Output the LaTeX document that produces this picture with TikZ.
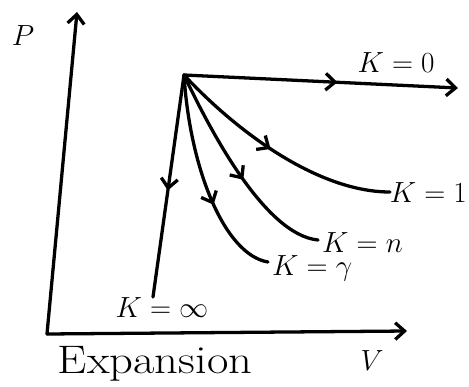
\documentclass[tikz,border=0pt]{standalone}
\usepackage{amsmath, amssymb}
\usetikzlibrary{arrows.meta, decorations.markings}

\begin{document}
\begin{tikzpicture}[
  x=0.03cm, y=-0.03cm,
  curve/.style={line width=2.8pt, line cap=round, postaction={decorate},
    decoration={markings, mark=at position #1 with {\arrow{Straight Barb[length=2.8mm, width=5mm]}}}},
  curve/.default={0.5},
  axis/.style={line width=2.8pt, line cap=round, -{Straight Barb[length=2.8mm, width=5mm]}},
  lbl/.style={font=\fontsize{24}{28}\selectfont, inner sep=0pt},
  >=Stealth
]
\useasboundingbox (0,0) rectangle (469,387);

% Axes
\coordinate (o) at (47,334);
\coordinate (y_top) at (77,12);
\coordinate (x_end) at (407,331);
\draw[axis] (o) -- (y_top);
\draw[axis] (o) -- (x_end);
\node[font=\fontsize{30}{34}\selectfont, inner sep=0pt] (p_lbl) at (23,36) {$P$};
\node[font=\fontsize{26}{30}\selectfont, inner sep=0pt] (v_lbl) at (372,361) {$V$};
\node[font=\fontsize{34}{40}\selectfont, inner sep=0pt] (exp_lbl) at (155,364)
  {\scalebox{1.17}[1]{Expansion}};

% Initial state and end points
\coordinate (s) at (184,75);
\coordinate (e_zero) at (458,88);
\coordinate (e_one) at (390,192);
\coordinate (e_n) at (318,240);
\coordinate (e_gamma) at (268,262);
\coordinate (e_inf) at (153,297);

% Processes
\draw[curve=0.56, -{Straight Barb[length=2.8mm, width=5mm]}] (s) -- (e_zero);
\draw[curve=0.47] (s) .. controls (240,135) and (320,192) .. (e_one);
\draw[curve=0.55] (s) .. controls (210,130) and (265,235) .. (e_n);
\draw[curve=0.62] (s) .. controls (190,170) and (225,255) .. (e_gamma);
\draw[curve=0.52] (s) -- (e_inf);

% Labels
\node[lbl] (k_zero) at (396,63) {$K=0$};
\node[lbl, anchor=east] (k_one) at (467,193) {$K=1$};
\node[lbl, anchor=west] (k_n) at (322,243) {$K=n$};
\node[lbl, anchor=west] (k_gamma) at (272,268) {$K=\gamma$};
\node[lbl] (k_inf) at (162,308) {$K=\infty$};

\end{tikzpicture}
\end{document}
